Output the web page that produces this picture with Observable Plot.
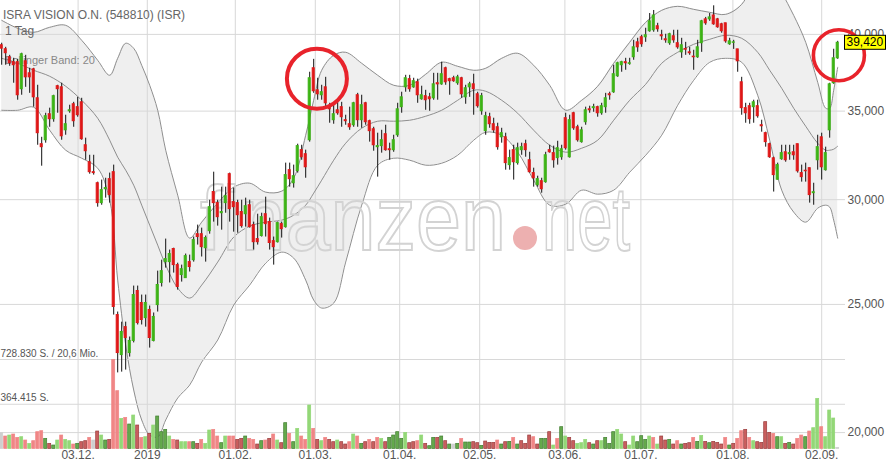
<!DOCTYPE html>
<html><head><meta charset="utf-8">
<script src="https://cdn.jsdelivr.net/npm/d3@7"></script>
<script src="https://cdn.jsdelivr.net/npm/@observablehq/plot@0.6"></script>
<style>
html,body{margin:0;padding:0;background:#fff;}
#wrap{position:relative;width:887px;height:468px;overflow:hidden;font-family:"Liberation Sans",Arial,sans-serif;background:#fff;}
#wrap svg{position:absolute;left:0;top:0;}
.lbl{position:absolute;white-space:nowrap;line-height:1;font-family:"Liberation Sans",Arial,sans-serif;}
</style></head><body><div id="wrap"></div>
<script>
// ---- data (trading-day index 0..209) ----
const open = [
39250,38980,38440,38110,38110,36360,38170,37380,37640,35790,
33040,33270,34810,34510,36550,36480,33850,34990,35420,35240,
35540,32980,32020,31470,30870,29820,30550,31090,31470,24540,
22890,24030,22970,23460,25590,25060,24410,24760,23460,24970,
25950,26910,26910,27530,26770,26310,26170,26910,27000,28250,
28250,27570,28400,30400,29820,29300,29820,31360,29870,29820,
29360,29250,29710,28700,28010,28160,29250,28850,27910,27860,
28750,28600,31580,30870,31530,32700,32470,33270,37710,36290,
35980,36480,35240,34450,35050,35240,34450,34210,34150,35980,
34450,35480,34390,33910,32870,32930,33620,32750,32700,33560,
35240,36480,37000,36480,36800,35730,35920,35850,35790,36740,
36670,37710,37000,37060,36740,37060,35850,36480,36670,36040,
34990,33800,34630,34210,34030,33440,33440,31860,32700,31970,
32700,33040,32130,31420,30770,30980,30930,32700,32530,32250,
32300,34570,32300,34870,34030,33160,34330,35110,35180,35240,
34870,35240,36040,36170,37190,37910,38110,38000,38440,39450,
39800,39800,40220,40290,40570,39940,39660,39390,39870,39390,
38770,39000,38770,38480,38440,39390,41060,41060,41340,41060,
40710,40780,39320,39420,38970,36800,35180,35300,35240,35300,
34150,33680,33040,32240,31060,32190,32580,32470,32580,33040,
31420,31550,31690,30340,32130,33440,31580,33850,36740,38370];
const high = [
39390,39110,38570,38370,38300,38710,38570,37710,37710,36610,
33440,34870,35180,35980,36610,36740,34750,35360,35540,35850,
35790,33390,32410,32410,30930,31040,31140,31420,31860,24670,
24240,24240,23620,25810,25810,25410,25410,24930,24630,26490,
27000,28010,27480,27570,26860,26770,27290,27240,28110,28700,
28550,28160,29970,31470,29970,30660,30660,31420,30610,29970,
29970,30080,29970,28850,29250,29300,30130,29050,28110,28850,
28850,31970,31970,31860,33040,32980,32700,37450,38300,37060,
36610,37120,35480,35360,35540,35540,34750,35240,35540,36100,
35980,35540,34450,34030,33680,33850,34150,33100,33560,35480,
36170,37250,37250,37060,37000,36550,36290,36100,37380,37380,
38110,37780,37060,37190,37250,37120,36610,36800,37320,36170,
36100,34930,34870,34570,34270,33970,33680,32700,32980,33100,
33100,33270,32580,31690,31250,31140,32580,32980,32930,33210,
32980,34870,34750,34930,34150,34030,35240,35300,35420,35300,
35480,36100,36170,37910,38110,38170,38370,38370,39590,39730,
39940,40430,41480,41700,40780,40290,40010,40080,40290,40290,
39730,39450,39110,38910,39590,40990,41200,41480,42040,41130,
40780,40780,39730,39590,38970,37120,35480,35480,35670,35670,
34450,33740,33100,32300,31970,32980,32980,32980,32980,33040,
31860,31970,31690,30870,33560,33680,32870,36740,38980,39520];
const low = [
37910,37910,37840,36740,35670,35980,36480,36100,35240,32980,
31800,33100,34030,34330,34870,33270,33560,34870,34030,34630,
33270,32130,31360,31310,29610,29710,30080,29820,24540,22190,
22220,22300,22810,23380,24120,24120,24030,23170,23420,24670,
25770,26630,25950,26400,25630,25990,26170,26450,26910,27720,
27150,26910,28250,28850,28650,28450,29300,28850,28350,28300,
28550,28600,28550,27480,27720,28110,28110,27480,26770,27820,
28060,28550,30660,30610,31420,32130,31140,33160,36100,35670,
35670,35180,34270,34210,34750,34030,34150,33850,34030,34030,
33970,34150,33160,32640,31200,32530,32640,32130,32580,33440,
34870,36170,36170,36420,35480,35670,35050,34990,35670,35670,
36610,36610,35980,36800,36610,35790,35420,35850,34750,35180,
34750,33560,33970,33680,32700,33100,31580,31580,31040,31860,
32410,32300,31420,30660,30660,30340,30870,32530,31690,31860,
32130,32700,32250,33850,33160,33100,34150,34870,34930,34630,
34750,34870,35670,36100,37120,37450,37580,37910,38240,38770,
39110,39450,40150,40150,40150,39590,39390,39250,39390,38980,
38370,38570,38570,37580,38370,38770,40640,40920,40640,40430,
40080,39390,39250,38970,37450,34750,34270,34210,34270,34570,
33740,32870,32240,30400,31040,32130,32020,32130,32130,31420,
30930,30930,29820,29710,31580,31040,31530,33390,36670,38300];
const close = [
39020,38710,38040,37910,35980,38640,37120,37120,35850,33680,
32870,34690,34510,35920,36360,33500,34210,35050,34390,34750,
33330,32640,31470,31420,29820,30500,30610,30240,24890,22970,
23830,23580,23460,25410,24200,24330,25060,23580,24460,25860,
26490,27050,27290,26770,25770,26580,27190,26680,27960,28110,
27620,28060,29610,29820,29100,29360,30180,29510,29610,29200,
28650,29660,28600,27860,27860,29100,28750,27820,27620,28800,
28500,31310,31090,31250,32930,32300,31740,37060,36230,36040,
36170,35480,35110,34810,34870,34630,34390,34030,35480,34450,
35360,34330,33800,32980,32930,33270,32700,32700,33270,35110,
35850,37060,36360,36870,35980,35980,35670,35730,36670,36670,
37320,36800,36870,36870,37120,36040,36420,36670,36360,35300,
35920,34690,34210,33850,32870,33680,31970,32250,32020,32810,
32870,32700,31470,31140,31090,30550,32410,32580,32130,32810,
32750,32810,34450,33970,33270,33850,35050,35050,35240,34870,
35300,35790,35980,37320,38040,38110,38040,38040,39110,39110,
39320,39940,40920,41340,40360,39870,39590,40010,39590,39110,
39250,38950,38710,38440,39110,40920,40780,41200,40710,40500,
40220,39520,39520,39450,38170,35180,34870,34510,35540,34690,
34090,33160,32300,31310,31860,32530,32130,32530,32410,31520,
31200,31520,30240,30390,32870,31740,32530,36670,38370,39420];
const volume = [
128800,101700,109800,118000,90800,96200,69100,42000,63700,137000,
145100,82700,42000,28400,69100,109800,74500,63700,36500,42000,
55500,63700,90800,69100,142400,109800,69100,74500,726100,470900,
245600,253700,199400,272700,191300,90800,96200,123400,191300,264600,
137000,156000,101700,74500,69100,55500,55500,55500,55500,42000,
74500,42000,150600,156000,101700,47400,101700,101700,101700,74500,
82700,101700,82700,74500,36500,63700,69100,82700,118000,69100,
47400,210300,123400,55500,164100,101700,74500,354200,164100,74500,
63700,90800,74500,55500,69100,55500,36500,55500,118000,101700,
42000,55500,74500,55500,90800,82700,55500,90800,109800,137000,
82700,131600,47400,55500,63700,109800,42000,23000,90800,90800,
101700,63700,36500,36500,42000,82700,52800,52800,55500,47400,
25700,60900,50100,50100,69100,36500,55500,58200,90800,36500,
63700,42000,109800,96200,36500,82700,82700,137000,28400,82700,
177700,101700,90800,63700,42000,47400,74500,47400,36500,63700,
63700,90800,42000,137000,156000,118000,55500,28400,101700,55500,
104400,74500,101700,90800,36500,101700,69100,74500,36500,63700,
36500,42000,47400,90800,58200,107100,58200,47400,58200,50100,
36500,90800,28400,42000,82700,145100,156000,90800,63700,55500,
50100,218500,131600,123400,96200,96200,42000,50100,36500,82700,
109800,96200,142400,169500,408500,177700,96200,313500,248300,9400];
const volTone = (
"gr,lr,lg,lr,lr,lg,lr,lg,lr,lr,"+"lr,dg,dr,dg,lg,lr,lg,lg,lr,dg,"+"dr,dr,lr,gr,dr,lg,dg,dr,lr,lr,"+
"lg,lr,dg,lg,dr,lr,lg,dr,lg,dg,"+"dg,dg,lg,lr,dr,lg,lg,lr,dg,dr,"+"lr,lg,lg,lr,lr,dg,lg,lr,lr,dr,"+
"dr,dg,lr,lr,dr,dg,lr,dr,lr,lg,"+"dr,dg,lr,dg,lg,lr,lr,lg,lr,dr,"+"lg,lr,dr,dr,lg,dr,dr,lr,lg,lr,"+
"dg,dr,lr,dr,lr,lg,dr,dg,dg,dg,"+"dg,lg,dr,dr,lr,lg,dr,dg,dg,dr,"+"dg,dr,dg,gr,dg,lr,dg,dg,dr,dr,"+
"dg,dr,dr,dr,lr,dg,dr,dg,lr,dg,"+"dr,dr,dr,lr,dr,dg,dg,dr,lg,lr,"+"dg,lg,dr,dr,lg,lg,lg,dr,dg,dr,"+
"lg,dg,dg,dg,lg,lg,dr,lg,lg,dg,"+"dg,dg,lg,lr,lg,dr,dr,dg,dr,lr,"+"dg,dr,dr,lr,dg,lg,dr,dg,dr,dr,"+
"dr,lr,dg,dr,lr,lr,dr,lr,lg,dr,"+"dr,dr,dr,lr,dg,lg,dr,dg,dr,lr,"+"lr,dg,lr,lg,lg,lr,lg,lg,lg,gr").split(",");

// Bollinger band (20) read at these trading-day indices
const bandIdx = [0,4,8,12,16,20,24,27,29,31,33,35,37,39,41,44,47,50,54,58,62,66,70,73,76,78,80,83,86,90,94,98,102,106,110,114,118,121,125,129,133,137,141,145,149,153,157,161,165,169,173,177,181,185,189,192,195,198,201,204,206,207,208,209];
const bandUpper = [40990,40427,40145,40497,40637,39592,38237,37253,38370,39386,39044,37906,36610,35053,32697,30236,28057,28849,29818,30660,30873,30395,30447,31143,33561,35667,37578,38571,38774,38039,37253,36610,36610,37318,38105,37840,37578,37709,38370,38706,37906,36610,35053,35667,36547,38039,39454,40848,41711,42002,41784,41567,41422,42148,44329,44718,43037,41349,39454,36802,35175,35175,36293,37775];
const bandMiddle = [38370,38039,37578,37188,36547,35667,34568,33271,32301,31579,30766,29714,28698,27718,26770,25720,25277,25855,26911,28106,28648,28849,28949,29202,29714,30342,31035,32133,33098,33972,34389,34389,34448,34689,35053,35667,36293,36230,35667,34870,33854,32983,32584,32811,33271,34448,35667,36674,38039,38774,39317,39660,39937,39729,38774,37578,36420,35175,34090,33098,32697,32697,32754,32926];
const bandLower = [35053,35053,35237,33854,32697,32245,31689,29974,26081,23293,21540,20444,19917,19848,20444,21242,21728,22614,23497,24971,25855,26863,27382,27098,26081,25189,24842,25058,26911,29714,31855,32245,32133,31855,31965,32414,33271,33737,33561,32584,31035,29714,29766,30500,30289,30500,31470,32414,33561,35359,36930,38105,38370,38105,35979,33271,30500,29355,28849,29560,29714,29611,28949,28057];

const tickIdx = [19.1,36.4,58.4,78.4,99.5,119.5,140.8,159.8,182.8,205.0];
const tickLabels = ["03.12.","2019","01.02.","01.03.","01.04.","02.05.","03.06.","01.07.","01.08.","02.09."];
const priceTicks = [20000,25000,30000,35000,40000];
const volTicks = [364415,728830];
const volLabels = ["364.415 S.","728.830 S. / 20,6 Mio."];
const titleText = "ISRA VISION O.N. (548810) (ISR)";
const periodText = "1 Tag";
const indicatorText = "Bollinger Band: 20";
const lastPrice = 39420;
const highlightA = {i:78.8, p:37030};
const highlightB = {i:209.3, p:38570};

// ---- build ----
const candles = close.map((c,i)=>({i, o:open[i], h:high[i], l:low[i], c}));
const vols = volume.map((v,i)=>({i, v, t:volTone[i]}));
const band = bandIdx.map((i,k)=>({i, u:bandUpper[k], m:bandMiddle[k], l:bandLower[k]}));
const ticks = tickIdx.map((x,k)=>({x, label:tickLabels[k]}));
const fmt = d3.format(",");
const GREEN="#3cb414", RED="#e01717";
const toneFill = {lg:"#93d877", dg:"#64a94c", lr:"#f08686", dr:"#c95e5e", gr:"#cfcfcf"};
const toneStroke = {lg:"#93d877", dg:"#427f32", lr:"#f08686", dr:"#9a3d3d", gr:"#cfcfcf"};

const wrap = document.getElementById("wrap");
const style = "background:transparent;overflow:visible;font-family:'Liberation Sans',Arial,sans-serif;";
const base = {width:887, height:468, marginLeft:0, marginRight:42, marginTop:0, marginBottom:18, style};
const xScale = {type:"linear", domain:[-0.3,210.95], range:[0,845], axis:null};
const yPrice = {type:"log", domain:[20000,40000], range:[432.1,33.9], axis:null};
const bandLine = {x:"i", stroke:"#8e8e8e", strokeWidth:1, curve:"catmull-rom", clip:true};

const back = Plot.plot({...base, x:xScale, y:yPrice, marks:[
  Plot.areaY(band, {x:"i", y1:"l", y2:"u", fill:"#efefef", curve:"catmull-rom", clip:true}),
  Plot.ruleY(priceTicks, {stroke:"#d8d8d8"}),
  Plot.ruleX(tickIdx, {stroke:"#d8d8d8"}),
  Plot.line(band, {...bandLine, y:"u"}),
  Plot.line(band, {...bandLine, y:"m"}),
  Plot.line(band, {...bandLine, y:"l"}),
  Plot.text(priceTicks, {y:d=>d, frameAnchor:"right", textAnchor:"start", dx:2, text:d=>fmt(d), fill:"#555", fontSize:12}),
  Plot.text(ticks, {x:"x", text:"label", frameAnchor:"bottom", dy:8.5, fill:"#555", fontSize:12})
]});
wrap.appendChild(back);

// watermark
const wm = d3.select(wrap).append("svg").attr("width",887).attr("height",468);
wm.append("text").attr("x",200).attr("y",250).attr("font-size",90).attr("text-anchor","start")
  .attr("font-family","'Liberation Sans',Arial,sans-serif").attr("fill","none")
  .attr("stroke","#d3d3d3").attr("stroke-width",2)
  .attr("textLength",306).attr("lengthAdjust","spacingAndGlyphs").text("finanzen");
wm.append("circle").attr("cx",525).attr("cy",238).attr("r",12).attr("fill","#edb0b0");
wm.append("text").attr("x",542).attr("y",250).attr("font-size",90).attr("text-anchor","start")
  .attr("font-family","'Liberation Sans',Arial,sans-serif").attr("fill","none")
  .attr("stroke","#d3d3d3").attr("stroke-width",2)
  .attr("textLength",88).attr("lengthAdjust","spacingAndGlyphs").text("net");

// header texts
[[titleText,3,9,"#666",12],[periodText,5,25,"#666",12],[indicatorText,5,55,"#888",11]].forEach(([t,x,y,c,s])=>{
  d3.select(wrap).append("div").attr("class","lbl").style("left",x+"px").style("top",y+"px")
    .style("color",c).style("font-size",s+"px").text(t);
});

const volPlot = Plot.plot({...base, x:xScale, y:{domain:[0,728830], range:[448.5,359], axis:null}, color:{type:"identity"}, marks:[
  Plot.ruleY(volTicks, {stroke:"#d8d8d8"}),
  Plot.rect(vols, {x1:d=>d.i-0.375, x2:d=>d.i+0.375, y1:0, y2:"v", fill:d=>toneFill[d.t], stroke:d=>toneStroke[d.t], strokeWidth:0.7}),
  Plot.text(volTicks, {y:d=>d, frameAnchor:"left", textAnchor:"start", dy:-6, text:(d,k)=>volLabels[k], fill:"#555", fontSize:10})
]});
wrap.appendChild(volPlot);

const front = Plot.plot({...base, x:xScale, y:yPrice, color:{type:"identity"}, marks:[
  Plot.ruleX(candles, {x:"i", y1:"l", y2:"h", stroke:"#111", strokeWidth:1}),
  Plot.rect(candles, {x1:d=>d.i-0.25, x2:d=>d.i+0.25, y1:"o", y2:"c",
    fill:d=>d.c>=d.o?GREEN:RED, stroke:d=>d.c>=d.o?GREEN:RED, strokeWidth:1}),
  Plot.dot([highlightA], {x:"i", y:"p", r:30, stroke:"#e8232b", strokeWidth:4, fill:"none"}),
  Plot.dot([highlightB], {x:"i", y:"p", r:25.5, stroke:"#e8232b", strokeWidth:3.6, fill:"none"})
]});
wrap.appendChild(front);

// last price tag
const yy = front.scale("y").apply(lastPrice);
const tag = d3.select(front).append("g");
tag.append("rect").attr("x",844.5).attr("y",yy-7).attr("width",41).attr("height",14)
  .attr("fill","#ffff00").attr("stroke","#000").attr("stroke-width",1);
tag.append("text").attr("x",846.5).attr("y",yy).attr("dy","0.35em").attr("font-size",12)
  .attr("text-anchor","start")
  .attr("font-family","'Liberation Sans',Arial,sans-serif").attr("fill","#000").text(fmt(lastPrice));
</script></body></html>
